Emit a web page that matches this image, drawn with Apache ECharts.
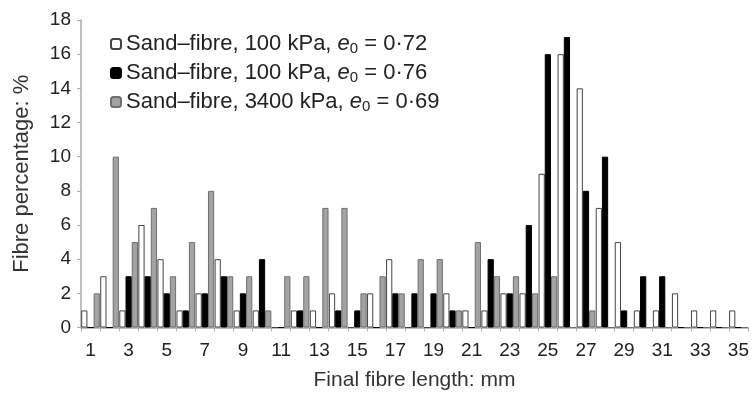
<!DOCTYPE html>
<html>
<head>
<meta charset="utf-8">
<script src="https://cdn.jsdelivr.net/npm/echarts@6/dist/echarts.min.js"></script>
<style>
  html, body { margin: 0; padding: 0; background: #fff; }
  #chart { width: 752px; height: 396px; }
</style>
</head>
<body>
<div id="chart"></div>
<script>
// fibre length classes, mm
const lengths = ['1','2','3','4','5','6','7','8','9','10','11','12','13','14','15','16','17','18',
  '19','20','21','22','23','24','25','26','27','28','29','30','31','32','33','34','35']

// fibre percentage, %
const sand100e072 = [1,3,1,6,4,1,2,4,1,1,0,1,1,2,0,2,4,0,0,2,1,1,2,2,9,16,14,7,5,1,1,2,1,1,1]
const sand100e076 = [0,0,3,3,2,1,2,3,2,4,0,1,0,1,1,0,2,2,2,1,0,4,2,6,16,17,8,10,1,3,3,0,0,0,0]
const sand3400e069 = [2,10,5,7,3,5,8,3,3,1,3,3,7,7,2,3,2,4,4,1,5,3,3,2,3,0,1,0,0,0,0,0,0,0,0]

const names = [
  'Sand–fibre, 100 kPa, e0 = 0·72',
  'Sand–fibre, 100 kPa, e0 = 0·76',
  'Sand–fibre, 3400 kPa, e0 = 0·69'
]
const yTicks = { min: 0, max: 18, step: 2 }

const font = 'Liberation Sans, Arial, sans-serif'
const chart = echarts.init(document.getElementById('chart'))

const bar = (name, data, fill, border) => ({
  name,
  type: 'bar',
  data,
  barGap: '0%',
  barCategoryGap: '2%',
  itemStyle: { color: fill, borderColor: border, borderWidth: 1 },
  animation: false
})

chart.setOption({
  backgroundColor: '#fff',
  textStyle: { fontFamily: font },
  grid: { left: 81, right: 4, top: 20, bottom: 68.5 },
  legend: {
    orient: 'vertical',
    left: 105,
    top: 24,
    itemWidth: 10,
    itemHeight: 10,
    itemGap: 2,
    data: names,
    textStyle: {
      fontSize: 22,
      lineHeight: 24,
      color: '#222',
      fontFamily: font,
      rich: {
        i: { fontSize: 22, lineHeight: 24, fontStyle: 'italic', color: '#222', fontFamily: font },
        s: { fontSize: 15, color: '#222', fontFamily: font, verticalAlign: 'bottom', lineHeight: 15, padding: [12, 0, 0, 0] }
      }
    },
    formatter: n => n.replace('e0', '{i|e}{s|0}')
  },
  xAxis: {
    type: 'category',
    data: lengths,
    name: 'Final fibre length: mm',
    nameLocation: 'middle',
    nameGap: 42,
    nameTextStyle: { fontSize: 21, color: '#333', fontFamily: font },
    axisLine: { lineStyle: { color: '#aaa', width: 1.5 } },
    axisTick: { show: true, interval: 0, length: 4, lineStyle: { color: '#aaa' } },
    axisLabel: { interval: 1, fontSize: 19, color: '#222', margin: 14, fontFamily: font }
  },
  yAxis: {
    type: 'value',
    min: yTicks.min,
    max: yTicks.max,
    interval: yTicks.step,
    name: 'Fibre percentage: %',
    nameLocation: 'middle',
    nameGap: 48,
    nameTextStyle: { fontSize: 22, color: '#333', fontFamily: font },
    axisLine: { show: true, lineStyle: { color: '#aaa', width: 1.5 } },
    axisTick: { show: true, length: 4, lineStyle: { color: '#aaa' } },
    axisLabel: { fontSize: 19, color: '#222', margin: 10, fontFamily: font },
    splitLine: { show: false }
  },
  series: [
    bar(names[0], sand100e072, '#ffffff', '#444'),
    bar(names[1], sand100e076, '#000000', '#000'),
    bar(names[2], sand3400e069, '#a3a3a3', '#6f6f6f')
  ]
})
</script>
</body>
</html>
